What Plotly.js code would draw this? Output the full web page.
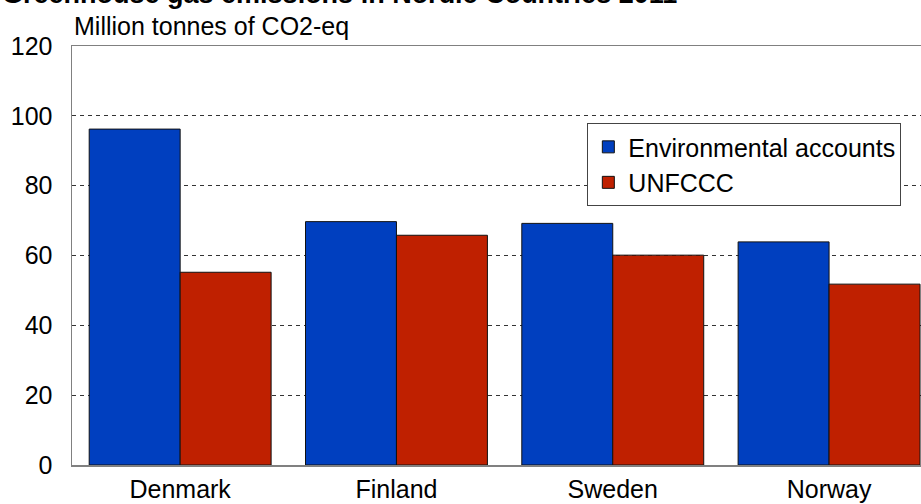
<!DOCTYPE html>
<html>
<head>
<meta charset="utf-8">
<script src="https://cdn.plot.ly/plotly-3.0.1.min.js"></script>
<style>
html,body{margin:0;padding:0;background:#fff;overflow:hidden;}
#chart{width:921px;height:504px;}
</style>
</head>
<body>
<div id="chart"></div>
<script>
const countries = ["Denmark", "Finland", "Sweden", "Norway"];
const environmentalAccounts = [96.2, 69.7, 69.2, 63.9];
const unfccc = [55.2, 65.8, 60.1, 51.8];
const seriesNames = ["Environmental accounts", "UNFCCC"];
const yTickValues = [0, 20, 40, 60, 80, 100, 120];
const chartTitle = "Greenhouse gas emissions in Nordic Countries 2011";
const unitLabel = "Million tonnes of CO2-eq";

const FONT = "Arial, 'Liberation Sans', sans-serif";

const traces = [
  {
    type: "bar", name: seriesNames[0], x: countries, y: environmentalAccounts,
    marker: {color: "#003FBF", line: {color: "#111", width: 1}},
    hoverinfo: "x+y+name"
  },
  {
    type: "bar", name: seriesNames[1], x: countries, y: unfccc,
    marker: {color: "#BF2000", line: {color: "#111", width: 1}},
    hoverinfo: "x+y+name"
  }
];

const layout = {
  width: 921, height: 504,
  margin: {l: 72, r: 0, t: 46, b: 39, pad: 0},
  paper_bgcolor: "#fff", plot_bgcolor: "#fff",
  font: {family: FONT, size: 25, color: "#000"},
  barmode: "group", bargap: 0.159, bargroupgap: 0,
  showlegend: true,
  legend: {
    x: 0.607, y: 0.816, xanchor: "left", yanchor: "top",
    bgcolor: "#fff", bordercolor: "#444", borderwidth: 1,
    font: {family: FONT, size: 25, color: "#000"},
    tracegroupgap: 0
  },
  xaxis: {
    type: "category", range: [-0.5, 3.425],
    showgrid: false, zeroline: false,
    showline: true, linecolor: "#808080", linewidth: 1.5, mirror: true,
    ticks: "", tickfont: {family: FONT, size: 25, color: "#000"},
    ticklabelstandoff: 1, fixedrange: true
  },
  yaxis: {
    range: [0, 120], tickvals: yTickValues,
    showgrid: true, gridcolor: "#333", gridwidth: 1, griddash: "4px,4px",
    zeroline: false,
    showline: true, linecolor: "#808080", linewidth: 1.5,
    ticks: "", tickfont: {family: FONT, size: 25, color: "#000"},
    ticklabelstandoff: 13, fixedrange: true
  },
  annotations: [
    {
      text: "<b>" + chartTitle + "</b>", xref: "paper", yref: "paper",
      x: -0.0848, y: 1.125, xanchor: "left", yanchor: "middle",
      showarrow: false, font: {family: FONT, size: 27, color: "#000"}
    },
    {
      text: unitLabel, xref: "paper", yref: "paper",
      x: 0, y: 1.047, xanchor: "left", yanchor: "middle",
      showarrow: false, font: {family: FONT, size: 25, color: "#000"}
    }
  ]
};

Plotly.newPlot("chart", traces, layout, {displayModeBar: false, staticPlot: true});
</script>
</body>
</html>
